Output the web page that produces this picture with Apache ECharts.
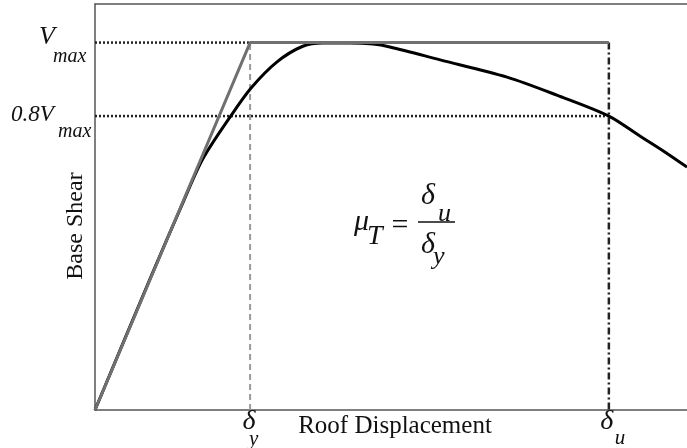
<!DOCTYPE html>
<html><head><meta charset="utf-8">
<script src="https://cdn.jsdelivr.net/npm/echarts@6/dist/echarts.min.js"></script>
<style>html,body{margin:0;padding:0;background:#fff}#c{width:687px;height:448px}</style>
</head><body><div id="c"></div>
<script>
// Data (displacement in % of axis range, shear normalised by Vmax)
var curveX = [0, 9.3, 15, 18.2, 22.8, 26.4, 30.7, 35.1, 38.5, 43.1, 47, 49.8, 58.3, 69.6, 78, 86.8, 92.1, 96, 100];
var curveY = [0, 0.357, 0.570, 0.683, 0.797, 0.877, 0.947, 0.990, 0.999, 0.999, 0.996, 0.988, 0.953, 0.906, 0.857, 0.800, 0.745, 0.705, 0.661];
var deltaY = 26.2;
var deltaU = 86.8;
var vMax = 1.0;
var vRatio = 0.8;

var serif = '"Liberation Serif","Times New Roman",serif';
var chart = echarts.init(document.getElementById('c'));
var curve = curveX.map(function (x, i) { return [x, curveY[i]]; });
var bilinear = [[0, 0], [deltaY, vMax], [deltaU, vMax]];
var v08 = vRatio * vMax;

function ln(data, color, width, type, z) {
  return { type: 'line', data: data, symbol: 'none', silent: true, z: z || 2,
    lineStyle: { color: color, width: width, type: type || 'solid' } };
}
var curveSeries = ln(curve, '#000', 3, 'solid', 3);
curveSeries.smooth = 0.3;

var axisLineStyle = { show: true, lineStyle: { color: '#555', width: 1.5 } };
chart.setOption({
  animation: false,
  grid: { left: 95, top: 4, right: 0, bottom: 38, show: false },
  xAxis: [
    { type: 'value', min: 0, max: 100, axisLine: axisLineStyle,
      axisTick: { show: false }, axisLabel: { show: false }, splitLine: { show: false } },
    { type: 'value', position: 'top', min: 0, max: 100, axisLine: axisLineStyle,
      axisTick: { show: false }, axisLabel: { show: false }, splitLine: { show: false } }
  ],
  yAxis: { type: 'value', min: 0, max: 1.105, axisLine: axisLineStyle,
    axisTick: { show: false }, axisLabel: { show: false }, splitLine: { show: false } },
  series: [
    ln([[0, vMax], [deltaY, vMax]], '#222', 2.5, [2, 2], 1),
    ln([[0, v08], [deltaU, v08]], '#222', 2.5, [2, 2], 1),
    ln([[deltaY, 0], [deltaY, vMax]], '#9a9a9a', 2, [6, 4], 1),
    ln([[deltaU, vMax], [deltaU, 0]], '#222', 2.5, [7, 3, 2, 3], 1),
    curveSeries,
    ln(bilinear, '#707070', 3, 'solid', 4)
  ]
});

var pY = chart.convertToPixel({ xAxisIndex: 0, yAxisIndex: 0 }, [deltaY, 0]);
var pU = chart.convertToPixel({ xAxisIndex: 0, yAxisIndex: 0 }, [deltaU, 0]);
var pV = chart.convertToPixel({ xAxisIndex: 0, yAxisIndex: 0 }, [0, vMax]);
var p8 = chart.convertToPixel({ xAxisIndex: 0, yAxisIndex: 0 }, [0, v08]);

function t(text, x, y, size, opts) {
  opts = opts || {};
  return { type: 'text', x: x, y: y, rotation: opts.rot || 0, silent: true, z: 10,
    style: { text: text, fontSize: size, fontFamily: serif, fontStyle: opts.italic === false ? 'normal' : 'italic',
      fill: '#111', align: opts.align || 'left', verticalAlign: 'middle' } };
}

chart.setOption({
  graphic: [
    t('V', 39, pV[1] - 5, 26),
    t('max', 53, pV[1] + 14, 20),
    t('0.8V', 11, p8[1] - 1, 23),
    t('max', 58, p8[1] + 16, 20),
    t('\u03b4', pY[0] - 1, 422, 28, { align: 'center' }),
    t('y', pY[0] - 1, 439, 21),
    t('\u03b4', pU[0] - 2, 422, 28, { align: 'center' }),
    t('u', pU[0] + 6, 438, 21),
    t('Roof Displacement', 395, 426, 25, { italic: false, align: 'center' }),
    t('Base Shear', 76, 226, 24, { italic: false, align: 'center', rot: Math.PI / 2 }),
    t('\u03bc', 354, 222, 30),
    t('T', 367, 237, 28),
    t('=', 400, 226, 30, { italic: false, align: 'center' }),
    { type: 'line', silent: true, z: 10, shape: { x1: 418, y1: 222, x2: 455, y2: 222 }, style: { stroke: '#111', lineWidth: 1.3 } },
    t('\u03b4', 421, 196, 30),
    t('u', 438, 214, 26),
    t('\u03b4', 421, 245, 30),
    t('y', 433, 257, 26)
  ]
});
</script>
</body></html>
